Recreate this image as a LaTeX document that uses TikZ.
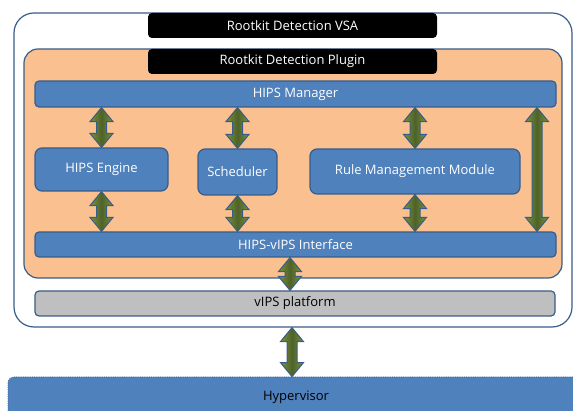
\documentclass[tikz,border=0pt]{standalone}
\usepackage{fontspec}
\setmainfont{Open Sans}
\usetikzlibrary{calc}
\definecolor{bfill}{HTML}{4F81BD}
\definecolor{bline}{HTML}{385D8A}
\definecolor{peach}{HTML}{FAC090}
\definecolor{gfill}{HTML}{BFBFBF}
\definecolor{gedge}{HTML}{77933C}
\definecolor{gmid}{HTML}{4F6228}
\tikzset{
  lbl/.style={font=\fontsize{13}{15}\selectfont, inner sep=0pt},
  bluebox/.style={lbl, draw=bline, line width=1.2pt, fill=bfill, text=white, rounded corners=4pt},
  roundbox/.style={bluebox, rounded corners=7pt},
  blackbox/.style={lbl, fill=black, text=white, rounded corners=4pt},
  graybox/.style={lbl, draw=bline, line width=1.2pt, fill=gfill, text=black, rounded corners=4pt},
  arrowshape/.style={draw=bline, line width=1pt, left color=gedge, right color=gedge, middle color=gmid},
}
\newcommand{\blkarrow}[2]{%
  \path[arrowshape] let \p1=(#1), \p2=(#2) in
    (\x1,\y1) -- (\x1+11.5pt,\y1-14pt) -- (\x1+5pt,\y1-14pt) -- (\x1+5pt,\y2+14pt)
    -- (\x1+11.5pt,\y2+14pt) -- (\x1,\y2) -- (\x1-11.5pt,\y2+14pt) -- (\x1-5pt,\y2+14pt)
    -- (\x1-5pt,\y1-14pt) -- (\x1-11.5pt,\y1-14pt) -- cycle;}
\begin{document}
\begin{tikzpicture}[x=1pt,y=-1pt]
\useasboundingbox (0,0) rectangle (573,411);
% outer VSA container
\node[draw=bline, line width=1.2pt, fill=white, rounded corners=20pt, minimum width=558pt, minimum height=314pt, inner sep=0pt] (outer) at (293,170) {};
\node[blackbox, minimum width=289pt, minimum height=25pt] (vsa) at (292.5,25.5) {Rootkit Detection VSA};
% plugin container
\node[draw=bline, line width=1.2pt, fill=peach, rounded corners=14pt, minimum width=538pt, minimum height=229pt, inner sep=0pt] (orange) at (293,163.5) {};
\node[blackbox, minimum width=289pt, minimum height=25pt] (plugin) at (292.5,61.5) {Rootkit Detection Plugin};
% components
\node[bluebox, minimum width=521pt, minimum height=26pt] (mgr) at (295.5,94) {HIPS Manager};
\node[roundbox, minimum width=133pt, minimum height=43pt] (eng) at (101.5,169.5) {HIPS Engine};
\node[roundbox, minimum width=79pt, minimum height=46pt] (sch) at (237.5,172) {Scheduler};
\node[roundbox, minimum width=210pt, minimum height=45pt] (rmm) at (415,171.5) {Rule Management Module};
\node[bluebox, minimum width=521pt, minimum height=25pt] (iface) at (295.5,244.5) {HIPS-vIPS Interface};
\node[graybox, minimum width=520pt, minimum height=25pt] (vips) at (295,303.5) {vIPS platform};
% hypervisor
\node[lbl, draw=bline, densely dotted, line width=0.8pt, fill=bfill, text=black, rounded corners=6pt, minimum width=580pt, minimum height=40pt] (hyp) at (298,397) {};
\node[lbl, text=black] (hyptext) at (296,397) {Hypervisor};
% helper coordinates
\coordinate (lx) at (537,0);
\coordinate (ax) at (290,0);
\coordinate (bx) at (292,0);
% block arrows
\blkarrow{eng.north |- mgr.south}{eng.north}
\blkarrow{sch.north |- mgr.south}{sch.north}
\blkarrow{rmm.north |- mgr.south}{rmm.north}
\blkarrow{eng.south}{eng.south |- iface.north}
\blkarrow{sch.south}{sch.south |- iface.north}
\blkarrow{rmm.south}{rmm.south |- iface.north}
\blkarrow{lx |- mgr.south}{lx |- iface.north}
\blkarrow{ax |- iface.south}{ax |- vips.north}
\blkarrow{bx |- outer.south}{bx |- hyp.north}
\end{tikzpicture}
\end{document}
